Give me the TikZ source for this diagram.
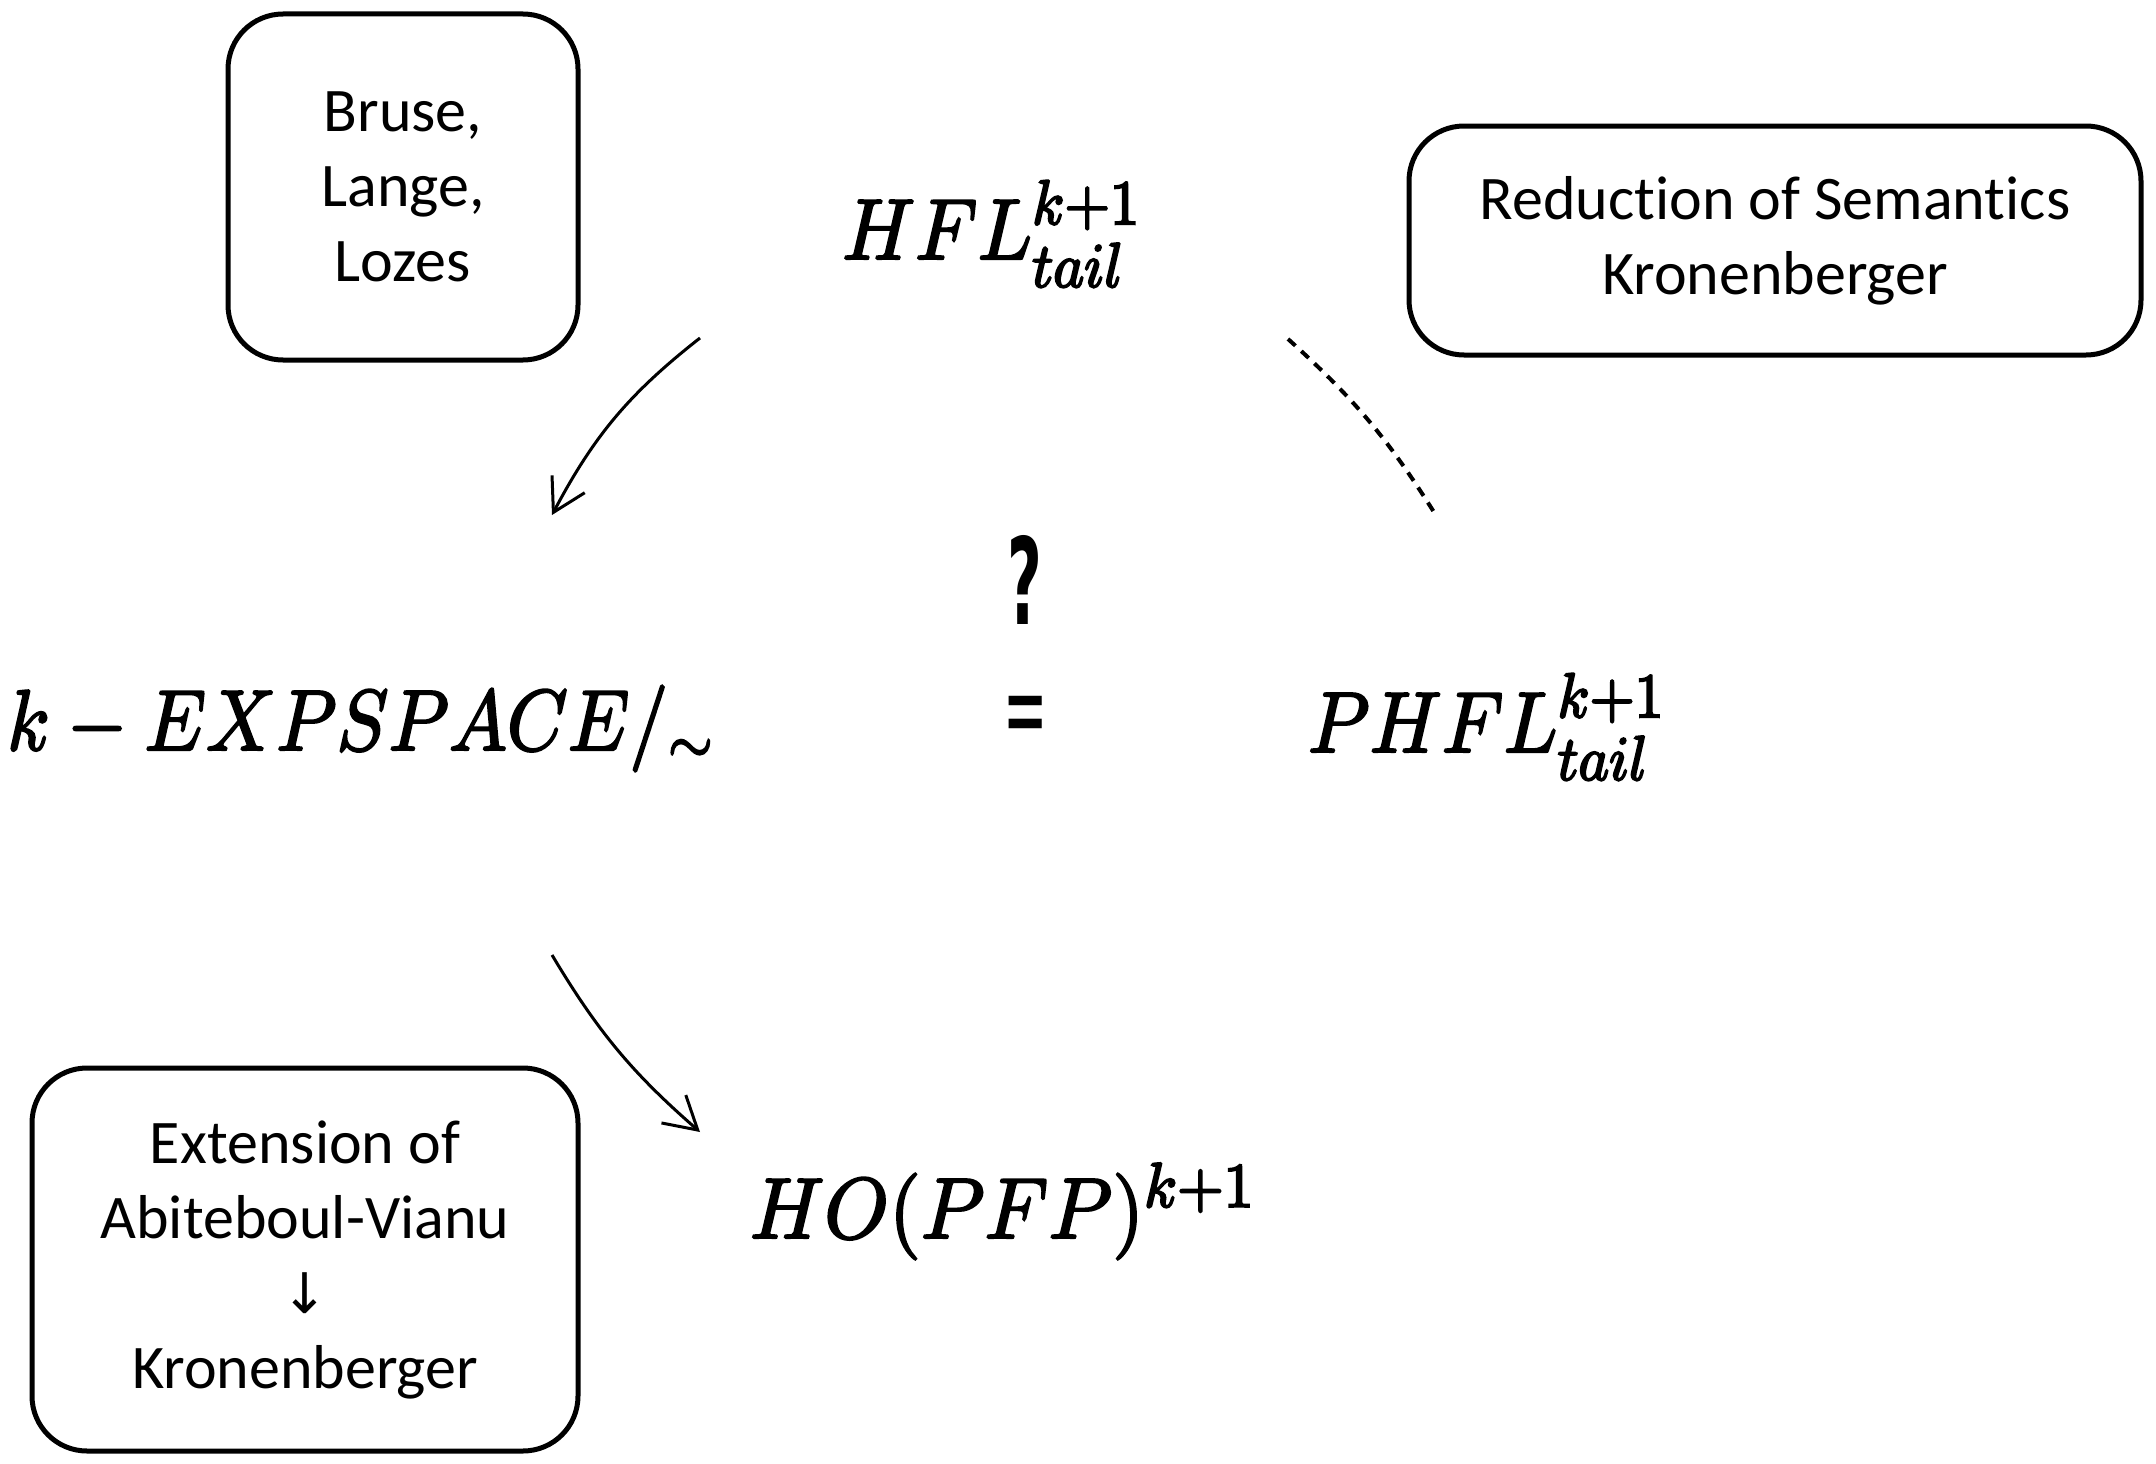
\documentclass[tikz,border=0pt]{standalone}
\usepackage[no-math]{fontspec}
\setmainfont[Ligatures=NoCommon]{Carlito}
\newfontfamily\djv{DejaVu Sans}
\DeclareFontShape{OML}{cmm}{m}{it}{<->cmmi10}{}
\DeclareFontShape{OMS}{cmsy}{m}{n}{<->cmsy10}{}
\DeclareFontShape{OT1}{cmr}{m}{n}{<->cmr10}{}
\DeclareFontShape{OMX}{cmex}{m}{n}{<->cmex10}{}
\DeclareMathSizes{86}{86}{63}{50}
\newcommand\heavytext[1]{\special{pdf:literal 2 Tr 2.2 w}#1\special{pdf:literal 0 Tr}}
\usetikzlibrary{arrows.meta}
\begin{document}
\begin{tikzpicture}[x=1pt,y=-1pt,
  refbox/.style={draw,line width=5pt,rounded corners=55pt,align=center,inner sep=0pt,
    font=\fontsize{62}{75}\selectfont},
  mathlbl/.style={inner sep=0pt,font=\fontsize{86}{100}\selectfont},
  arr/.style={line width=3pt,-{Straight Barb[length=32pt,width=37pt,line width=3pt]}},
  dsh/.style={line width=4pt,dash pattern=on 10pt off 8pt}]
\useasboundingbox (0,0) rectangle (2156,1464);
% boxes
\node[refbox,minimum width=350pt,minimum height=346pt] (b1) at (403,187) {Bruse,\\Lange,\\Lozes};
\node[refbox,minimum width=732pt,minimum height=229pt] (b2) at (1775,240.5) {Reduction of Semantics\\Kronenberger};
\node[refbox,minimum width=546pt,minimum height=383pt] (b3) at (305,1259.5) {Extension of\\Abiteboul-Vianu\\{\djv\fontsize{56}{75}\selectfont ↓}\\Kronenberger};
% formulas
\node[mathlbl,anchor=base,xscale=0.93] (hfl) at (991,259) {\heavytext{$HFL^{k+1}_{tail}$}};
\node[mathlbl,anchor=base west,xscale=0.9] (exp) at (7,750) {\heavytext{$k-EXPSPACE/_{\sim}$}};
\node[mathlbl,anchor=base,xscale=0.92] (phfl) at (1486,752) {\heavytext{$PHFL^{k+1}_{tail}$}};
\node[mathlbl,anchor=base,xscale=0.95] (ho) at (1002,1238) {\heavytext{$HO(PFP)^{k+1}$}};
\node[inner sep=0pt,xscale=0.5,font=\djv\bfseries\fontsize{120}{120}\selectfont] (q) at (1025,580) {?};
\node[inner sep=0pt,xscale=0.46,font=\djv\fontsize{115}{115}\selectfont] (eq) at (1026,722) {=};
% connectors
\coordinate (a1s) at (700,338);
\coordinate (a1e) at (552,515);
\coordinate (a2s) at (552,955);
\coordinate (a2e) at (700,1132);
\coordinate (ds) at (1288,339);
\coordinate (de) at (1437,517);
\draw[arr] (a1s) to[bend right=12] (a1e);
\draw[arr] (a2s) to[bend right=9] (a2e);
\draw[dsh] (ds) to[bend left=8] (de);
\end{tikzpicture}
\end{document}
